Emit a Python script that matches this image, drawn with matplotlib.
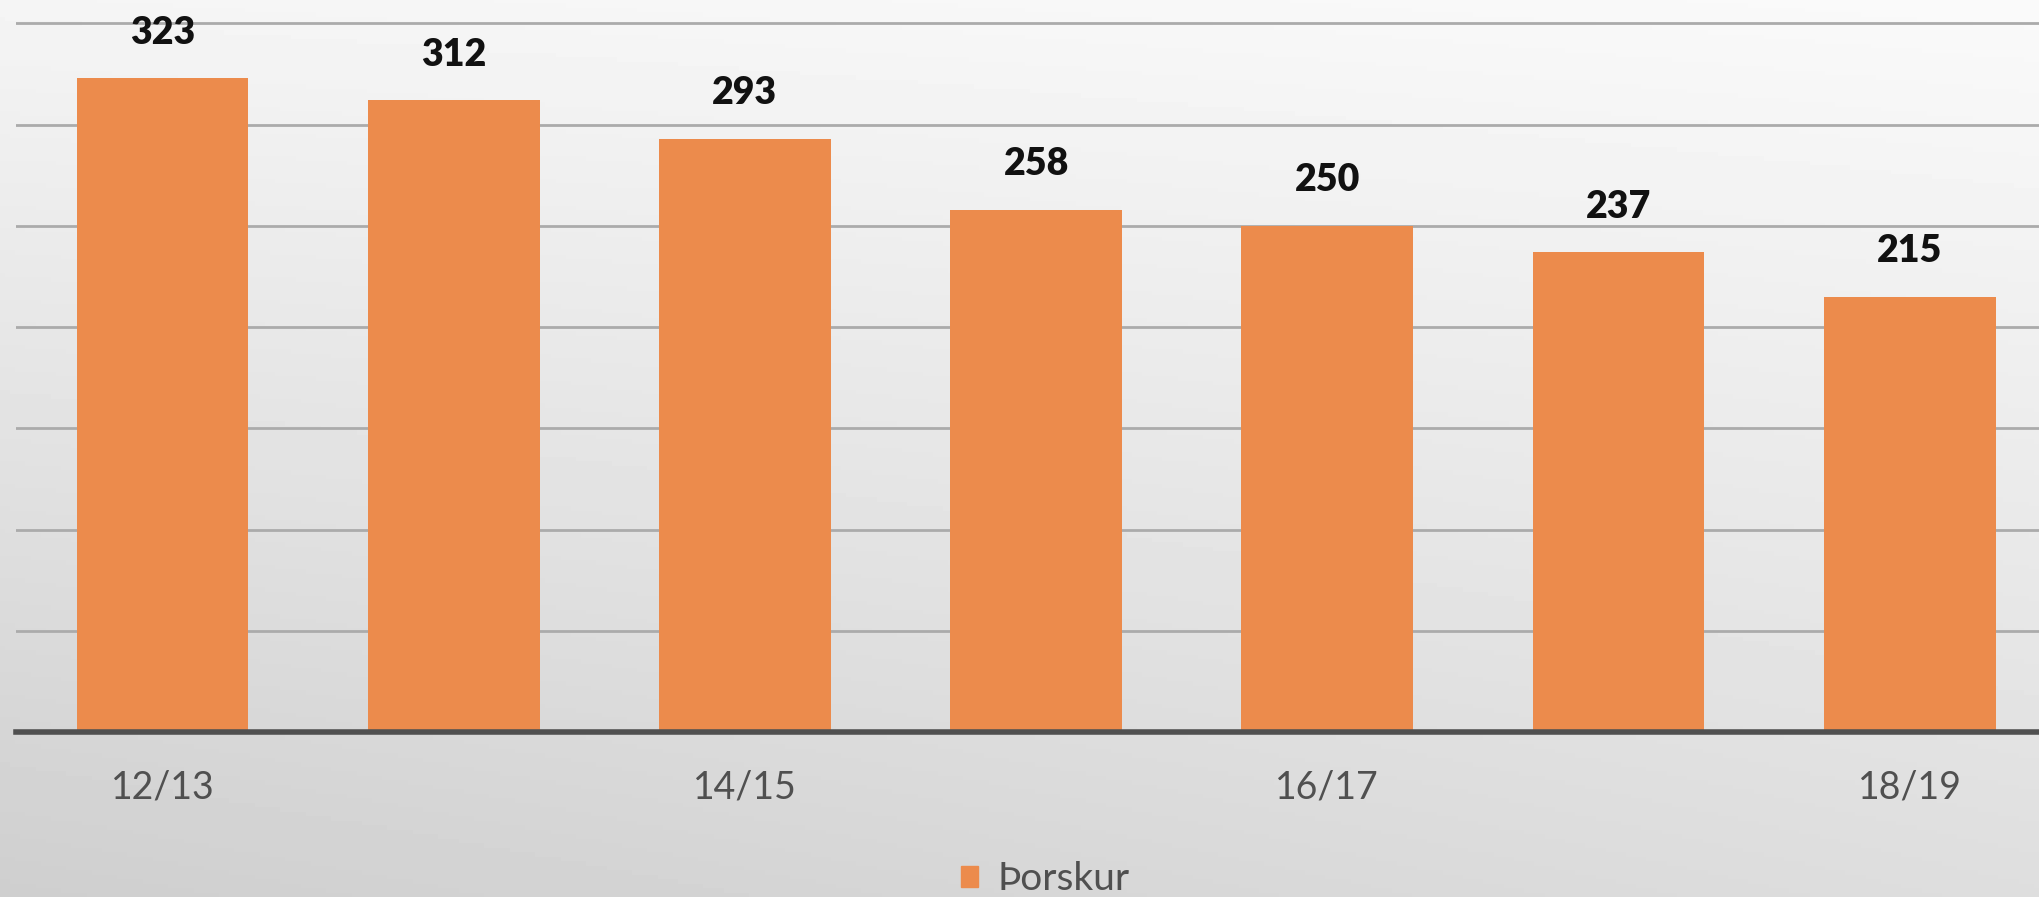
import numpy as np
import matplotlib.pyplot as plt

# Þorskur (cod) quota per fishing year
seasons = ['12/13', '13/14', '14/15', '15/16', '16/17', '17/18', '18/19']
values = [323, 312, 293, 258, 250, 237, 215]
tick_labels = ['12/13', '', '14/15', '', '16/17', '', '18/19']
series_name = 'Þorskur'

bar_color = '#EC8B4C'

fig = plt.figure(figsize=(20.39, 8.97), dpi=100)

# soft gray gradient background
bg = fig.add_axes([0, 0, 1, 1], zorder=0)
yy, xx = np.mgrid[0:1:200j, 0:1:400j]
shade = 0.98 - 0.11 * yy - 0.04 * (1 - xx) * yy - 0.02 * (1 - xx)
bg.imshow(shade, cmap='gray', vmin=0, vmax=1, aspect='auto', extent=[0, 1, 0, 1])
bg.axis('off')

ax = fig.add_axes([16 / 2039, 1 - 732 / 897, 1 - 16 / 2039, 732 / 897], zorder=1)
ax.patch.set_alpha(0)

x = np.arange(len(seasons))
ax.bar(x, values, width=0.59, color=bar_color, zorder=2)

for xi, v in zip(x, values):
    ax.text(xi, v + 14, str(v), ha='center', va='bottom', fontsize=27,
            fontweight='heavy', family='Lato', color='#111111')

ax.set_xlim(-0.503, 6.444)
ax.set_ylim(0, 361.5)
ax.set_yticks(np.arange(50, 351, 50))
ax.yaxis.grid(True, color='#ababab', linewidth=2.0, zorder=0)
ax.set_axisbelow(True)

ax.set_xticks(x)
ax.set_xticklabels(tick_labels, fontsize=27, family='Lato', color='#505050')
ax.tick_params(axis='x', length=0, pad=27)
ax.tick_params(axis='y', length=0, labelleft=False)

for s in ['top', 'right', 'left']:
    ax.spines[s].set_visible(False)
ax.spines['bottom'].set_color('#505050')
ax.spines['bottom'].set_linewidth(4)
ax.spines['bottom'].set_zorder(3)

handle = plt.Rectangle((0, 0), 1, 1, color=bar_color)
fig.legend([handle], [series_name], loc='center', bbox_to_anchor=(0.5 + 26 / 2039, 1 - 879 / 897),
           frameon=False, handlelength=0.45, handleheight=0.45,
           handletextpad=0.5, labelcolor='#505050', prop={'family': 'Lato', 'size': 28})

fig.savefig('out.png', dpi=100)
